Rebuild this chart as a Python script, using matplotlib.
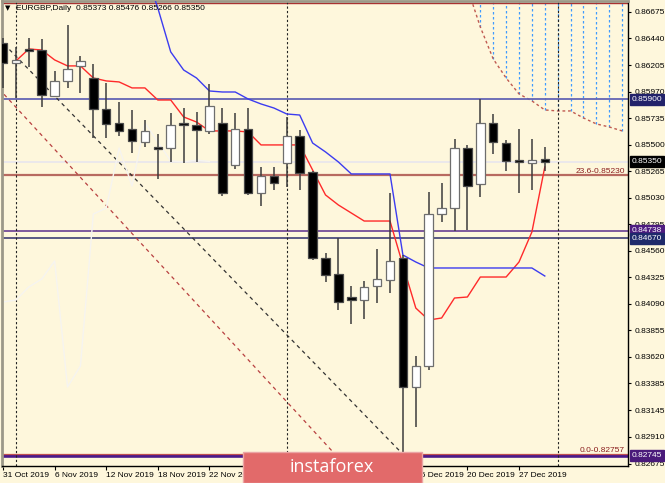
import numpy as np
import matplotlib.pyplot as plt
import matplotlib.transforms as mtransforms
from matplotlib import font_manager
from matplotlib.patches import Rectangle

# EURGBP daily candles, 31 Oct 2019 .. 31 Dec 2019
opens = [0.86400, 0.86223, 0.86347, 0.86338, 0.85931, 0.86064, 0.86197, 0.86090, 0.85816, 0.85692,
         0.85638, 0.85523, 0.85479, 0.85470, 0.85692, 0.85674, 0.85621, 0.85692, 0.85319, 0.85638,
         0.85071, 0.85222, 0.85337, 0.85576, 0.85257, 0.84495, 0.84354, 0.84150, 0.84123, 0.84247,
         0.84301, 0.84495, 0.83353, 0.83539, 0.84885, 0.84938, 0.85470, 0.85151, 0.85692, 0.85514,
         0.85364, 0.85337, 0.85373]
highs = [0.86445, 0.86365, 0.86445, 0.86436, 0.86152, 0.86560, 0.86285, 0.86214, 0.86046, 0.85878,
         0.85807, 0.85718, 0.85594, 0.85780, 0.85824, 0.85789, 0.86037, 0.85824, 0.85780, 0.85824,
         0.85302, 0.85302, 0.85745, 0.85630, 0.85266, 0.84540, 0.84670, 0.84247, 0.84292, 0.84575,
         0.85071, 0.84522, 0.83627, 0.85080, 0.85160, 0.85550, 0.85497, 0.85900, 0.85771, 0.85541,
         0.85638, 0.85550, 0.85476]
lows = [0.86002, 0.85913, 0.86188, 0.85833, 0.85922, 0.86002, 0.85957, 0.85559, 0.85559, 0.85576,
        0.85426, 0.85479, 0.85195, 0.85346, 0.85337, 0.85346, 0.85594, 0.85045, 0.85284, 0.85054,
        0.84956, 0.85098, 0.85125, 0.85098, 0.84478, 0.84283, 0.84035, 0.83911, 0.83955, 0.84097,
        0.84185, 0.82757, 0.82998, 0.83503, 0.84814, 0.84738, 0.84744, 0.85036, 0.85417, 0.85266,
        0.85071, 0.85098, 0.85266]
closes = [0.86223, 0.86250, 0.86330, 0.85940, 0.86064, 0.86170, 0.86241, 0.85816, 0.85683, 0.85621,
          0.85532, 0.85621, 0.85461, 0.85674, 0.85674, 0.85630, 0.85842, 0.85071, 0.85638, 0.85071,
          0.85222, 0.85160, 0.85576, 0.85249, 0.84495, 0.84345, 0.84106, 0.84123, 0.84239, 0.84309,
          0.84469, 0.83353, 0.83539, 0.84885, 0.84938, 0.85470, 0.85133, 0.85692, 0.85523, 0.85355,
          0.85346, 0.85364, 0.85350]

# Ichimoku lines
tenkan_start = 1
tenkan = [0.86241, 0.86347, 0.86338, 0.86250, 0.86197, 0.86197, 0.86090, 0.86064, 0.86055, 0.86002,
          0.86002, 0.85895, 0.85895, 0.85745, 0.85700, 0.85621, 0.85621, 0.85621, 0.85612, 0.85497,
          0.85497, 0.85497, 0.85497, 0.85275, 0.85054, 0.84965, 0.84894, 0.84823, 0.84823, 0.84823,
          0.84432, 0.84052, 0.83946, 0.83964, 0.84141, 0.84150, 0.84327, 0.84327, 0.84327, 0.84460,
          0.84726, 0.85302]
kijun_start = 11
kijun = [0.87047, 0.86710, 0.86321, 0.86161, 0.86090, 0.85975, 0.85966, 0.85966, 0.85904, 0.85860,
         0.85824, 0.85771, 0.85762, 0.85514, 0.85435, 0.85346, 0.85240, 0.85240, 0.85240, 0.85240,
         0.84522, 0.84460, 0.84407, 0.84407, 0.84407, 0.84407, 0.84407, 0.84407, 0.84407, 0.84407,
         0.84407, 0.84336]
senkou_b_start = 36
senkou_b = [0.86888, 0.86542, 0.86259, 0.86090, 0.85949, 0.85887, 0.85807, 0.85798, 0.85798, 0.85736,
            0.85683, 0.85656, 0.85621]
chikou_shift = 26

# trend lines: (bar, price) anchors
trend_black = [(0, 0.86400), (31, 0.82757)]
trend_red = [(0, 0.85955), (25, 0.82849)]

# horizontal levels
level_top = 0.86755
level_high = 0.85900
level_bid = 0.85350
level_fib236 = 0.85230
level_a = 0.84738
level_b = 0.84670
level_fib0 = 0.82757
level_low = 0.82745
month_bars = [1, 22, 43]

ytick_vals = [0.86675, 0.86440, 0.86205, 0.85970, 0.85735, 0.85500, 0.85265, 0.85030, 0.84795,
              0.84560, 0.84325, 0.84090, 0.83855, 0.83620, 0.83385, 0.83145, 0.82910, 0.82675]
xtick_bars = [0, 4, 8, 12, 16, 20, 24, 28, 32, 36, 40]
xtick_labels = ["31 Oct 2019", "6 Nov 2019", "12 Nov 2019", "18 Nov 2019", "22 Nov 2019",
                "28 Nov 2019", "4 Dec 2019", "10 Dec 2019", "16 Dec 2019", "20 Dec 2019",
                "27 Dec 2019"]

BG = '#FEF7DC'
names = {f.name for f in font_manager.fontManager.ttflist}
if 'Liberation Sans Narrow' in names:
    small_font, fsize = ['Liberation Sans Narrow', 'DejaVu Sans'], 7
else:
    small_font, fsize = ['Liberation Sans', 'DejaVu Sans'], 6
plt.rcParams['font.family'] = small_font


def main():
    fig = plt.figure(figsize=(6.65, 4.83), dpi=100, facecolor=BG)
    ax = fig.add_axes([2 / 665, 17 / 483, 626 / 665, 465 / 483], facecolor=BG)
    ax.set_xlim(-0.08, 48.45)
    ax.set_ylim(0.82653, 0.86772)

    # cloud hatch and senkou span B
    sb_x = np.arange(len(senkou_b)) + senkou_b_start
    sb = np.array(senkou_b)
    ax.vlines(sb_x, sb, 0.8700, color='#3f9bff', lw=0.9, linestyles=(0, (2, 2)), zorder=1)
    ax.plot(sb_x, sb, color='#c05a50', lw=1, ls=(0, (2, 2)), zorder=1.5)

    # horizontal levels
    ax.axhline(level_top, color='#a83232', lw=1, zorder=2)
    ax.axhline(level_high, color='#6464b4', lw=1.3, zorder=2)
    ax.axhline(level_bid, color='#e8e6ee', lw=1.2, zorder=2)
    ax.axhline(level_fib236, color='#b86a60', lw=1.6, zorder=2)
    ax.axhline(level_a, color='#5a2d8c', lw=1.1, zorder=2)
    ax.axhline(level_b, color='#2d2d6d', lw=1.1, zorder=2)
    ax.axhline(level_low, color='#4b1a8a', lw=2.6, zorder=2)
    ax.axhline(level_fib0, color='#c05050', lw=0.9, zorder=2)

    # month separators
    for b in month_bars:
        ax.axvline(b, color='#222222', lw=0.8, ls=(0, (2, 2)), zorder=2)

    # trend lines
    for (x0, y0), (x1, y1), col in [(*trend_black, '#333333'), (*trend_red, '#b84040')]:
        slope = (y1 - y0) / (x1 - x0)
        xs = np.array([-1, x1 + 2])
        ax.plot(xs, y0 + slope * (xs - x0), color=col, lw=0.9, ls=(0, (3, 3)), zorder=2)

    # chikou span
    cl = np.array(closes)
    ch_x = np.arange(len(cl))[chikou_shift:] - chikou_shift
    ax.plot(ch_x, cl[chikou_shift:], color='#f6f4f0', lw=1, zorder=2)

    # tenkan / kijun
    ax.plot(np.arange(len(tenkan)) + tenkan_start, tenkan, color='#ff2a2a', lw=1, zorder=3)
    ax.plot(np.arange(len(kijun)) + kijun_start, kijun, color='#3c3cf0', lw=1, zorder=3)

    # candles
    o = np.array(opens)
    h = np.array(highs)
    l = np.array(lows)
    idx = np.arange(len(o))
    up = cl >= o
    bottom = np.minimum(o, cl)
    height = np.maximum(np.abs(cl - o), 0.00002)
    ax.vlines(idx, l, h, color='#3c3c3c', lw=1.1, zorder=5)
    ax.bar(idx[up], height[up], bottom=bottom[up], width=0.66, color='white',
           edgecolor='#6e6e6e', lw=0.9, zorder=6)
    ax.bar(idx[~up], height[~up], bottom=bottom[~up], width=0.66, color='black',
           edgecolor='#4a4a4a', lw=0.9, zorder=6)

    # axes styling
    for side in ['left', 'top']:
        ax.spines[side].set_color('#9c9888')
        ax.spines[side].set_linewidth(2)
    for side in ['right', 'bottom']:
        ax.spines[side].set_color('black')
        ax.spines[side].set_linewidth(1)
    ax.yaxis.tick_right()
    ax.set_yticks(ytick_vals)
    ax.set_yticklabels([f"{v:.5f}" for v in ytick_vals])
    ax.set_xticks(xtick_bars)
    ax.set_xticklabels(xtick_labels, ha='left')
    ax.tick_params(axis='y', length=2.5, pad=2.5, labelsize=fsize, colors='black')
    ax.tick_params(axis='x', length=3, pad=1.5, labelsize=fsize, colors='black')

    # price boxes on the axis
    trans = mtransforms.blended_transform_factory(ax.transAxes, ax.transData)
    for val, col in [(level_high, '#22226a'), (level_bid, '#000000'), (level_a, '#4e1c80'),
                     (level_b, '#1f2a6b'), (level_low, '#4a1a7a')]:
        ax.text(1.0055, val, f"{val:.5f}", transform=trans, ha='left', va='center',
                fontsize=fsize, color='white', zorder=10, clip_on=False,
                bbox=dict(boxstyle='square,pad=0.22', fc=col, ec=col))

    ax.text(0.995, level_fib236, "23.6-0.85230", transform=trans, ha='right', va='bottom',
            fontsize=fsize, color='#8b1e1e', zorder=8)
    ax.text(0.995, level_fib0, "0.0-0.82757", transform=trans, ha='right', va='bottom',
            fontsize=fsize, color='#8b1e1e', zorder=8)

    # header
    fig.text(5 / 665, 1 - 8 / 483, "\u25bc", fontsize=5, family='DejaVu Sans', va='center')
    fig.text(16 / 665, 1 - 8 / 483, "EURGBP,Daily  0.85373 0.85476 0.85266 0.85350",
             fontsize=fsize, va='center')

    # watermark
    fig.add_artist(Rectangle((243 / 665, 0), 179 / 665, 31 / 483, transform=fig.transFigure,
                             fc='#E26A6A', ec='#EBA5A5', lw=1, zorder=20))
    fig.text(332 / 665, 1 - 467 / 483, "instaforex", fontsize=13, color='white',
             family=['Open Sans', 'DejaVu Sans'], ha='center', va='center', zorder=21)

    fig.savefig('out.png', dpi=100, facecolor=BG)


if __name__ == "__main__":
    main()
